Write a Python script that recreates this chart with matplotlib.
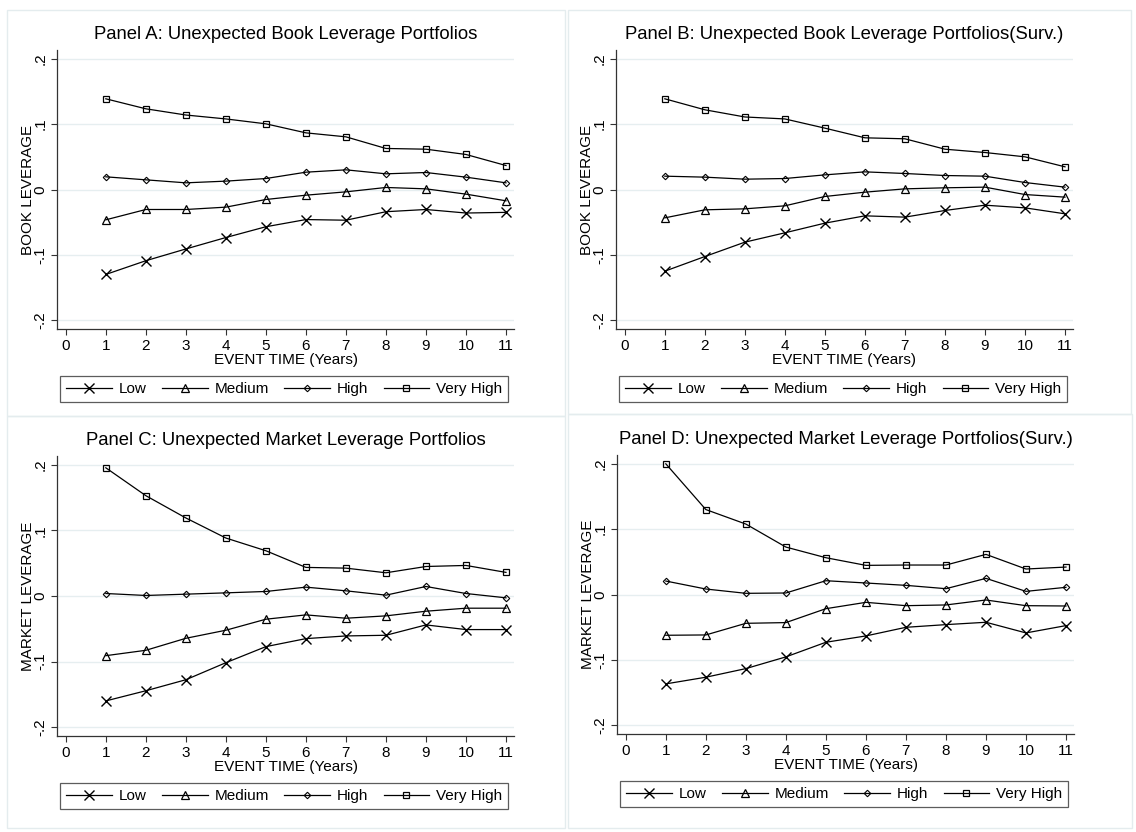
import numpy as np
import matplotlib
matplotlib.use('Agg')
import matplotlib.pyplot as plt
from matplotlib.patches import Rectangle

plt.rcParams['font.family'] = ['Liberation Sans', 'DejaVu Sans']

years = [1, 2, 3, 4, 5, 6, 7, 8, 9, 10, 11]
series_names = ['Low', 'Medium', 'High', 'Very High']

# Panel A: book leverage portfolios
book_low = [-0.130, -0.109, -0.091, -0.0735, -0.057, -0.046, -0.047, -0.034, -0.0306, -0.036, -0.035]
book_med = [-0.0464, -0.0306, -0.0306, -0.027, -0.0153, -0.0087, -0.0036, 0.0031, 0.001, -0.0071, -0.0173]
book_high = [0.0194, 0.0148, 0.0102, 0.0128, 0.0168, 0.0265, 0.0301, 0.024, 0.026, 0.0189, 0.0102]
book_vhigh = [0.1388, 0.1235, 0.114, 0.108, 0.1005, 0.0867, 0.0806, 0.0628, 0.0617, 0.0536, 0.0367]

# Panel B: book leverage, survivors
book_s_low = [-0.125, -0.1026, -0.0806, -0.0663, -0.0515, -0.0403, -0.0423, -0.0321, -0.024, -0.0281, -0.0372]
book_s_med = [-0.0434, -0.0311, -0.0296, -0.025, -0.0107, -0.0041, 0.001, 0.0026, 0.0036, -0.0077, -0.0117]
book_s_high = [0.0204, 0.0189, 0.0158, 0.0168, 0.0224, 0.027, 0.0245, 0.0214, 0.0204, 0.0107, 0.0036]
book_s_vhigh = [0.1388, 0.122, 0.111, 0.108, 0.0939, 0.0791, 0.0776, 0.0617, 0.0566, 0.050, 0.0347]

# Panel C: market leverage portfolios
mkt_low = [-0.160, -0.1445, -0.1277, -0.1017, -0.0772, -0.065, -0.0609, -0.0599, -0.0441, -0.0512, -0.0512]
mkt_med = [-0.091, -0.0828, -0.0645, -0.0522, -0.0354, -0.0288, -0.0339, -0.0303, -0.0232, -0.0186, -0.0186]
mkt_high = [0.0038, 0.0008, 0.0028, 0.0048, 0.0069, 0.0135, 0.0079, 0.0013, 0.0145, 0.0038, -0.0028]
mkt_vhigh = [0.1955, 0.153, 0.119, 0.0884, 0.069, 0.0436, 0.0425, 0.0354, 0.045, 0.0466, 0.036]

# Panel D: market leverage, survivors
mkt_s_low = [-0.1368, -0.1266, -0.1134, -0.0955, -0.0731, -0.0634, -0.0502, -0.0461, -0.0425, -0.0588, -0.0476]
mkt_s_med = [-0.0624, -0.0619, -0.0441, -0.043, -0.0217, -0.012, -0.0171, -0.016, -0.0084, -0.0171, -0.0176]
mkt_s_high = [0.0206, 0.0084, 0.0018, 0.0023, 0.0211, 0.0176, 0.014, 0.0089, 0.0247, 0.0048, 0.011]
mkt_s_vhigh = [0.200, 0.130, 0.1078, 0.0726, 0.0563, 0.0446, 0.0451, 0.0451, 0.0614, 0.039, 0.042]

titles = ['Panel A: Unexpected Book Leverage Portfolios',
          'Panel B: Unexpected Book Leverage Portfolios(Surv.)',
          'Panel C: Unexpected Market Leverage Portfolios',
          'Panel D: Unexpected Market Leverage Portfolios(Surv.)']
ylabels = ['BOOK LEVERAGE', 'BOOK LEVERAGE', 'MARKET LEVERAGE', 'MARKET LEVERAGE']
panels = [[book_low, book_med, book_high, book_vhigh],
          [book_s_low, book_s_med, book_s_high, book_s_vhigh],
          [mkt_low, mkt_med, mkt_high, mkt_vhigh],
          [mkt_s_low, mkt_s_med, mkt_s_high, mkt_s_vhigh]]

xticks = list(range(12))
yticks = [-0.2, -0.1, 0, 0.1, 0.2]
yticklabels = ['-.2', '-.1', '0', '.1', '.2']

W, H = 1136, 832
fig = plt.figure(figsize=(W / 100, H / 100), dpi=100)

# axes boxes in pixels: left, top, right, bottom
boxes = [(57, 50, 514, 329), (616, 50, 1073, 329),
         (57, 456, 514, 736), (617, 455, 1074, 734)]
# outer graph frames in pixels
frames = [(7, 10, 565, 416), (568, 10, 1131, 414),
          (7, 416, 565, 828), (568, 414, 1132, 828)]

markers = [dict(marker='x', ms=6.5, mew=1.0),
           dict(marker='^', ms=5.5, mew=0.9, mfc='none'),
           dict(marker='D', ms=3.3, mew=0.8, mfc='none'),
           dict(marker='s', ms=5.0, mew=0.9, mfc='none')]

for (l, t, r, b) in frames:
    fig.patches.append(Rectangle((l / W, 1 - b / H), (r - l) / W, (b - t) / H,
                                 transform=fig.transFigure, fill=False,
                                 ec='#e4ecee', lw=1.0))

for i in range(4):
    l, t, r, b = boxes[i]
    ph = b - t
    ax = fig.add_axes([l / W, 1 - b / H, (r - l) / W, ph / H])
    for y in yticks:
        ax.axhline(y, color='#e6eef0', lw=1.0, zorder=0)
    handles = []
    for j in range(4):
        h, = ax.plot(years, panels[i][j], color='black', lw=0.9,
                     mec='black', label=series_names[j], **markers[j])
        handles.append(h)
    ax.set_xlim(-0.22, 11.2)
    ax.set_ylim(-0.2135, 0.2135)
    ax.set_xticks(xticks)
    ax.set_yticks(yticks)
    ax.set_yticklabels(yticklabels, rotation=90, va='center')
    ax.tick_params(axis='both', direction='out', length=4.5, width=0.8,
                   labelsize=11, color='#333333', pad=2.5)
    for s in ['top', 'right']:
        ax.spines[s].set_visible(False)
    for s in ['left', 'bottom']:
        ax.spines[s].set_linewidth(0.9)
        ax.spines[s].set_color('#333333')
    ax.set_xlabel('EVENT TIME (Years)', fontsize=11, va='center')
    ax.xaxis.set_label_coords(0.5, -31 / ph)
    ax.set_ylabel(ylabels[i], fontsize=11, va='center')
    ax.yaxis.set_label_coords(-29 / (r - l), 0.5)
    ax.set_title(titles[i], fontsize=13.3, pad=8)
    leg = ax.legend(handles=handles, loc='upper center', ncol=4,
                    bbox_to_anchor=(0.497, -47 / ph), borderaxespad=0,
                    fontsize=11, handlelength=3.0, handletextpad=0.45,
                    columnspacing=1.0, borderpad=0.4, fancybox=False,
                    frameon=True)
    leg.get_frame().set_edgecolor('#333333')
    leg.get_frame().set_linewidth(0.9)

fig.savefig('out.png', dpi=100, facecolor='white')
